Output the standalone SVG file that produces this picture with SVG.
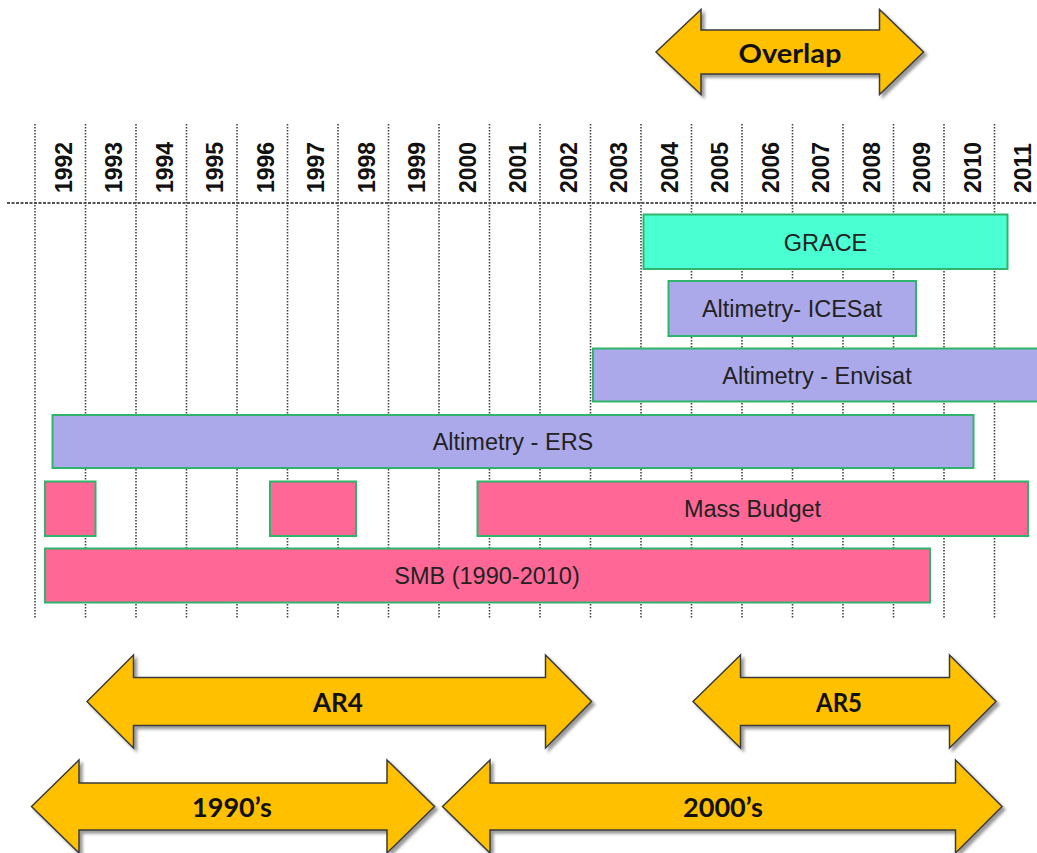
<svg xmlns="http://www.w3.org/2000/svg" width="1037" height="853" viewBox="0 0 1037 853">
<defs>
<style>
.vg{stroke:#444;stroke-width:1.6;stroke-dasharray:1.6 1.4;fill:none}
.hg{stroke:#555;stroke-width:2;stroke-dasharray:3 1.5;fill:none}
.yr{font-family:"Liberation Sans",Arial,sans-serif;font-weight:bold;font-size:23px;fill:#111}
.bar{stroke:#2fb56b;stroke-width:2}
.grace{fill:#4affd1}
.alt{fill:#aba9ea}
.mass{fill:#ff6896}
.bt{font-family:"Liberation Sans",Arial,sans-serif;font-size:23.5px;fill:#222;text-anchor:middle}
.arr{fill:#ffc000;stroke:#3a3a3a;stroke-width:1.5;stroke-linejoin:miter;filter:url(#sh)}
.at{font-family:Lato,"Open Sans",sans-serif;font-weight:bold;font-size:26.5px;fill:#111;text-anchor:middle}
</style>
<filter id="sh" x="-10%" y="-20%" width="120%" height="150%">
<feDropShadow dx="3" dy="3" stdDeviation="1.5" flood-color="#000" flood-opacity="0.4"/>
</filter>
</defs>

<g id="grid">
<path class="hg" d="M7 203H1037"/>
<path class="vg" d="M35 124V618M85.5 124V618M136 124V618M186.5 124V618M237 124V618M287.5 124V618M338 124V618M388.5 124V618M439 124V618M489.5 124V618M540 124V618M590.5 124V618M641 124V618M691.5 124V618M742 124V618M792.5 124V618M843 124V618M893.5 124V618M944 124V618M994.5 124V618"/>
</g>

<g id="years">
<text class="yr" transform="translate(71.5,193) rotate(-90)">1992</text>
<text class="yr" transform="translate(122,193) rotate(-90)">1993</text>
<text class="yr" transform="translate(172.5,193) rotate(-90)">1994</text>
<text class="yr" transform="translate(223,193) rotate(-90)">1995</text>
<text class="yr" transform="translate(273.5,193) rotate(-90)">1996</text>
<text class="yr" transform="translate(324,193) rotate(-90)">1997</text>
<text class="yr" transform="translate(374.5,193) rotate(-90)">1998</text>
<text class="yr" transform="translate(425,193) rotate(-90)">1999</text>
<text class="yr" transform="translate(475.5,193) rotate(-90)">2000</text>
<text class="yr" transform="translate(526,193) rotate(-90)">2001</text>
<text class="yr" transform="translate(576.5,193) rotate(-90)">2002</text>
<text class="yr" transform="translate(627,193) rotate(-90)">2003</text>
<text class="yr" transform="translate(677.5,193) rotate(-90)">2004</text>
<text class="yr" transform="translate(728,193) rotate(-90)">2005</text>
<text class="yr" transform="translate(778.5,193) rotate(-90)">2006</text>
<text class="yr" transform="translate(829,193) rotate(-90)">2007</text>
<text class="yr" transform="translate(879.5,193) rotate(-90)">2008</text>
<text class="yr" transform="translate(930,193) rotate(-90)">2009</text>
<text class="yr" transform="translate(980.5,193) rotate(-90)">2010</text>
<text class="yr" transform="translate(1031,193) rotate(-90)">2011</text>
</g>

<g id="grace">
<rect class="bar grace" x="643.5" y="214.5" width="364" height="54.5"/>
<text class="bt" x="825.5" y="250.5">GRACE</text>
</g>
<g id="icesat">
<rect class="bar alt" x="668.5" y="281" width="247.5" height="55"/>
<text class="bt" x="792" y="317">Altimetry- ICESat</text>
</g>
<g id="envisat">
<rect class="bar alt" x="593" y="348.5" width="460" height="53"/>
<text class="bt" x="817" y="384">Altimetry - Envisat</text>
</g>
<g id="ers">
<rect class="bar alt" x="52.5" y="415" width="921" height="53"/>
<text class="bt" x="513" y="450">Altimetry - ERS</text>
</g>
<g id="mass1">
<rect class="bar mass" x="45" y="481.5" width="50.5" height="54.5"/>
</g>
<g id="mass2">
<rect class="bar mass" x="270" y="481.5" width="86" height="54.5"/>
</g>
<g id="mass3">
<rect class="bar mass" x="477.5" y="481.5" width="550.5" height="54.5"/>
<text class="bt" x="752.5" y="517">Mass  Budget</text>
</g>
<g id="smb">
<rect class="bar mass" x="45" y="548.5" width="885" height="54"/>
<text class="bt" x="487" y="584">SMB (1990-2010)</text>
</g>

<g id="overlap">
<path class="arr" d="M656 52L701 9.5V30H879.5V9.5L923.5 52L879.5 94.5V74H701V94.5Z"/>
<text class="at" x="790" y="63" textLength="103" lengthAdjust="spacingAndGlyphs">Overlap</text>
</g>
<g id="ar4">
<path class="arr" d="M87 701.5L133.5 655V677.5H545.5V655L591.5 701.5L545.5 748V725.5H133.5V748Z"/>
<text class="at" x="338" y="711.5" textLength="50" lengthAdjust="spacingAndGlyphs">AR4</text>
</g>
<g id="ar5">
<path class="arr" d="M693 701.5L740.5 655V677.5H949.5V655L996 701.5L949.5 748V725.5H740.5V748Z"/>
<text class="at" x="839" y="711.5" textLength="46" lengthAdjust="spacingAndGlyphs">AR5</text>
</g>
<g id="d1990">
<path class="arr" d="M31.5 806.5L79 760V783H387V760L434.5 806.5L387 853V830H79V853Z"/>
<text class="at" x="232" y="816.5" textLength="80" lengthAdjust="spacingAndGlyphs">1990’s</text>
</g>
<g id="d2000">
<path class="arr" d="M442.5 806.5L490 760V783H955.5V760L1002 806.5L955.5 853V830H490V853Z"/>
<text class="at" x="723" y="816.5" textLength="80" lengthAdjust="spacingAndGlyphs">2000’s</text>
</g>
</svg>
